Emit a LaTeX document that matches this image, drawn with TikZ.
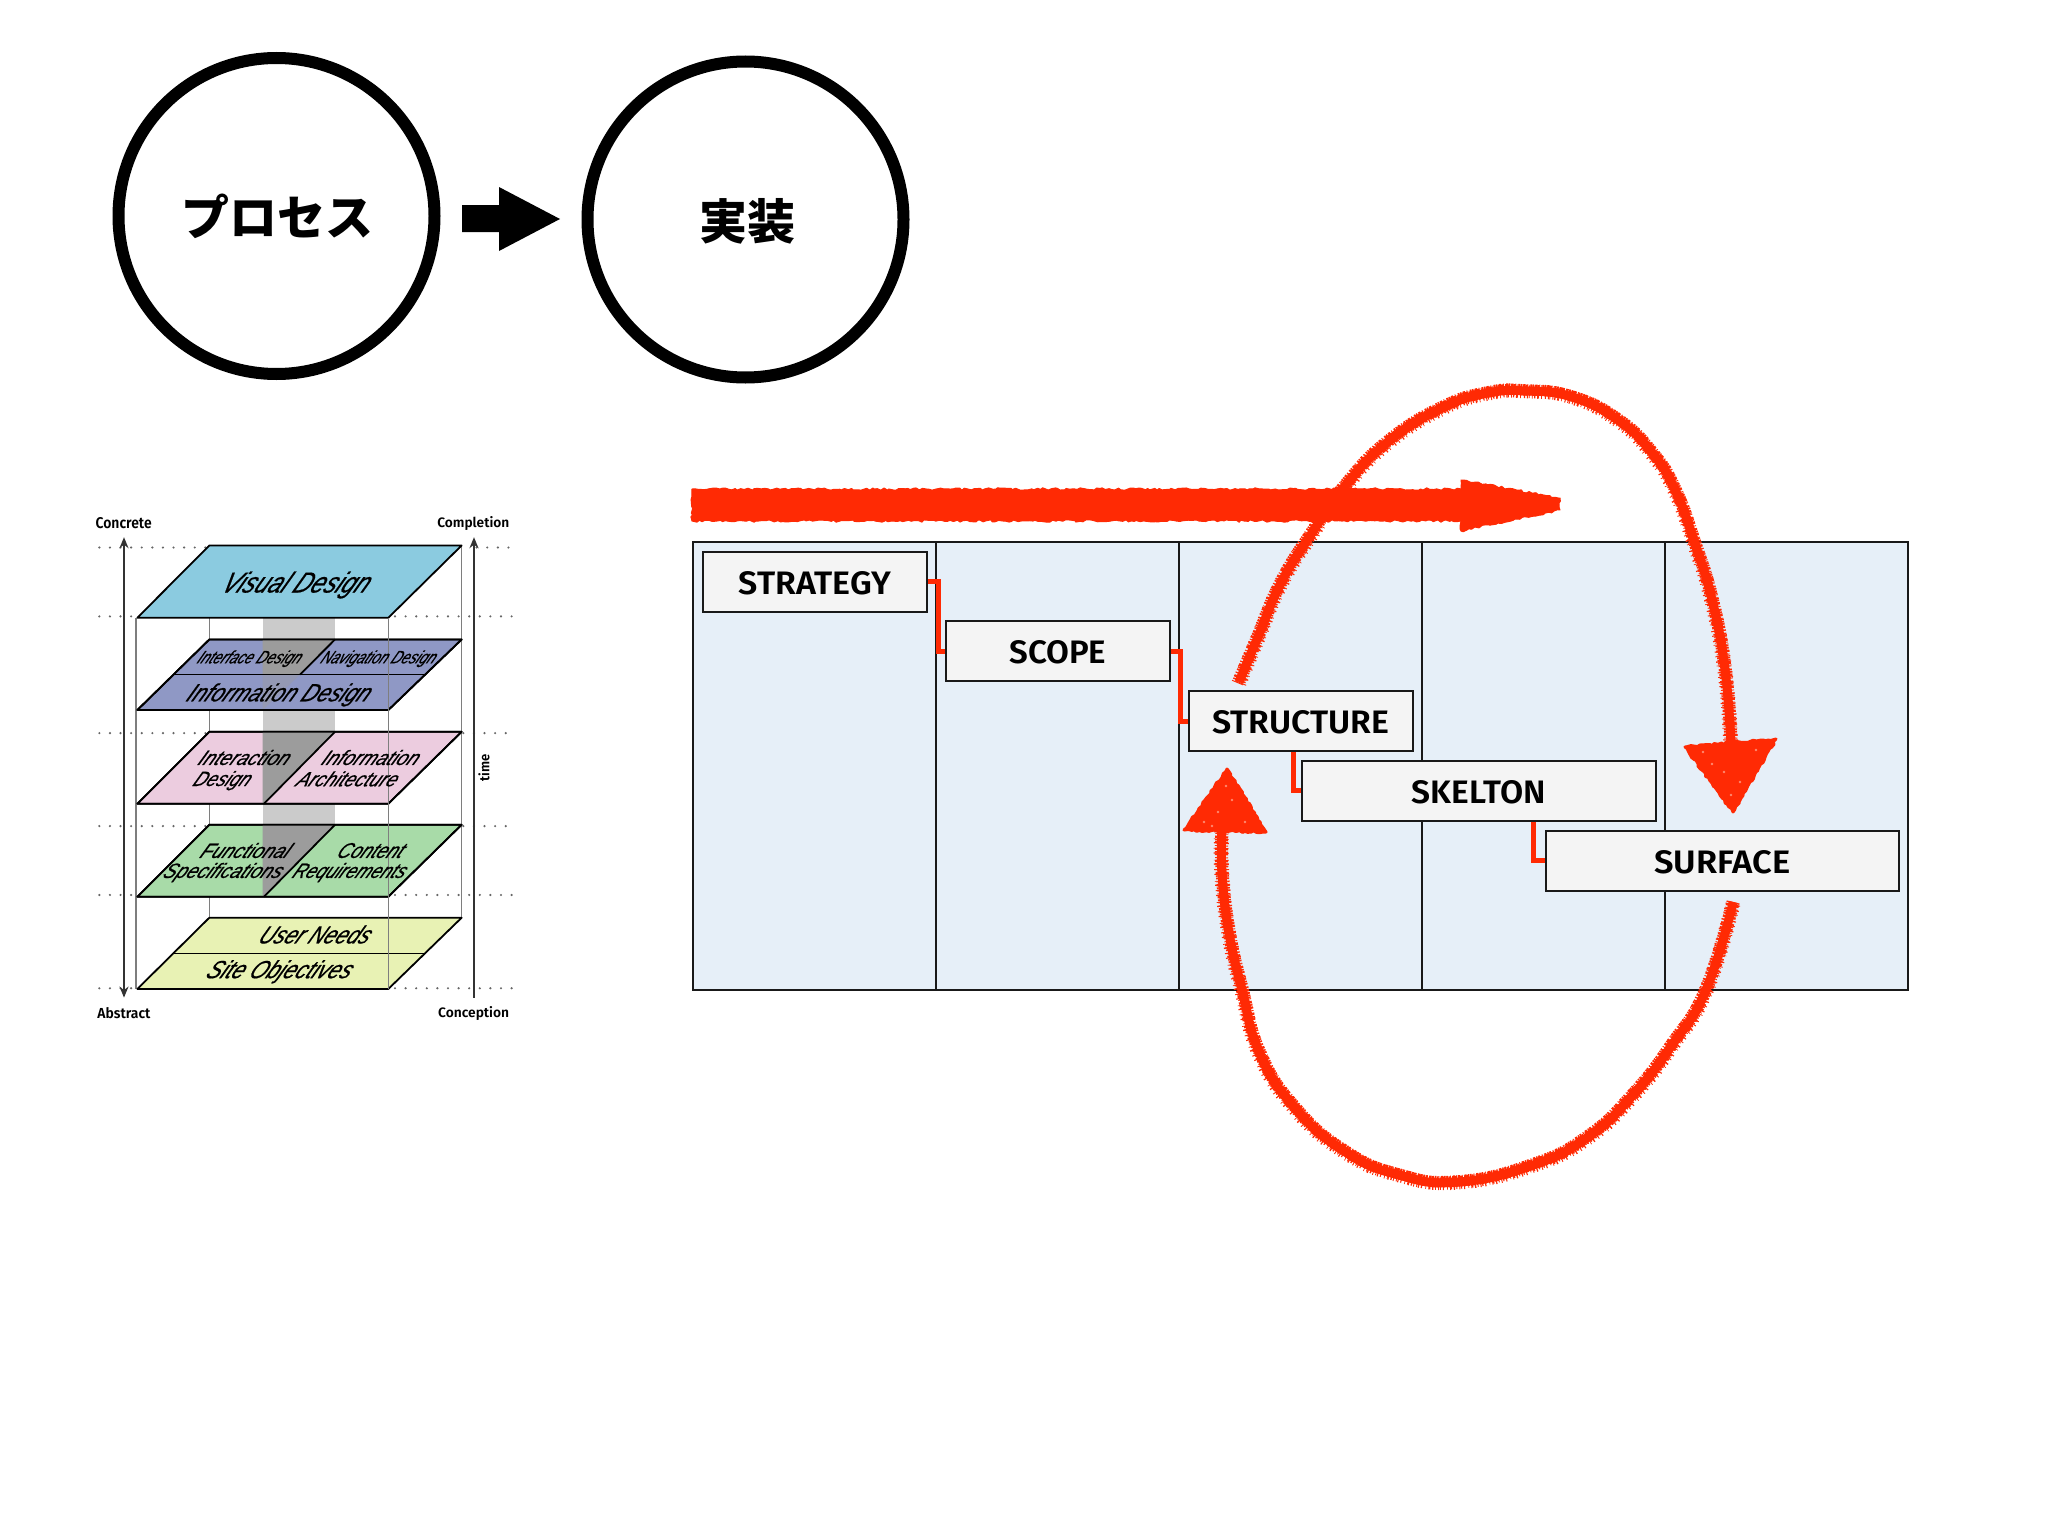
\documentclass[tikz,border=0pt]{standalone}
\usepackage{fontspec}
\usepackage{graphicx}
\usetikzlibrary{arrows.meta,decorations.pathmorphing,calc}
\setmainfont{Liberation Sans}
\newfontfamily\cjk{Noto Sans CJK JP}
\newfontfamily\din{Fira Sans SemiBold}
\newfontfamily\plf{Liberation Sans}[ItalicFeatures={FakeBold=.7}]
\definecolor{redmark}{HTML}{FF2A04}
\definecolor{speck}{HTML}{FF8A70}
\definecolor{colfill}{HTML}{E6EFF8}
\definecolor{boxfill}{HTML}{F4F4F4}
\definecolor{pvisual}{HTML}{8BCBE0}
\definecolor{pblue}{HTML}{8F98C5}
\definecolor{ppink}{HTML}{ECCCDF}
\definecolor{pgreen}{HTML}{A8DBA8}
\definecolor{pyellow}{HTML}{E8F2B4}
\definecolor{banddark}{HTML}{9C9C9C}
\definecolor{bandlight}{HTML}{CBCBCB}
\definecolor{bandblue}{HTML}{9499B4}
\definecolor{wire}{HTML}{7E7E7E}
\newcommand{\fit}[3]{\resizebox{#1pt}{#2pt}{#3}}
\newcommand{\stagefit}[2]{\raisebox{-1pt}[23pt][0pt]{\resizebox{#1pt}{23pt}{#2}}}
\newcommand{\uploop}[1]{\path[#1] plot[smooth,tension=.8] coordinates {(1239,682) (1258,637) (1281,583) (1312,533) (1346,485) (1388,442) (1442,408) (1488,393) (1526,391) (1572,397) (1618,420) (1652,453) (1675,490) (1694.5,543) (1712,600) (1725,670) (1731,745)};}
\newcommand{\lowloop}[1]{\path[#1] plot[smooth,tension=.8] coordinates {(1733,903) (1706,990) (1672,1045) (1633,1095) (1588,1137) (1533,1165) (1458.5,1182) (1399,1175) (1344,1151) (1294,1107) (1259.5,1053) (1242,990) (1229,933) (1222,873) (1222,828)};}
\tikzset{
  bigcircle/.style={circle,draw=black,line width=12pt,minimum size=316pt,inner sep=0pt,fill=white},
  cjklabel/.style={inner sep=0pt,font=\cjk\bfseries\fontsize{48}{48}\selectfont},
  column/.style={draw=black!90,line width=2pt,fill=colfill},
  stagebox/.style={draw=black!90,line width=2pt,fill=boxfill,inner sep=0pt,minimum height=60pt,font=\din},
  stageshort/.style={stagebox,minimum width=223.4pt},
  stagelong/.style={stagebox,minimum width=353.2pt},
  linkline/.style={draw=redmark,line width=5pt,line join=miter},
  rough/.style={decorate,decoration={random steps,segment length=3pt,amplitude=1pt}},
  redstrokea/.style={draw=redmark,line width=9pt,line cap=butt,line join=round},
  redstrokeb/.style={draw=redmark,line width=11pt,line cap=butt,line join=round,dash pattern=on 1.4pt off 1.1pt on 2.3pt off 1.7pt on .9pt off 2.1pt on 1.7pt off .8pt},
  redstrokec/.style={draw=redmark,line width=12pt,line cap=butt,line join=round,dash pattern=on .9pt off 4.3pt on 1.3pt off 2.9pt on .7pt off 6.1pt on 1.1pt off 3.7pt},
  redhead/.style={fill=redmark,draw=redmark,line width=3pt,line join=round,rough},
  redbar/.style={fill=redmark,draw=redmark,line width=1pt,line join=round,decorate,decoration={random steps,segment length=3pt,amplitude=1.2pt}},
  speckdot/.style={fill=speck},
  plane/.style={draw=black,line width=1.8pt,line join=round},
  wireline/.style={draw=wire,line width=1.5pt},
  dotline/.style={draw=black!60,line width=2.4pt,line cap=round,dash pattern=on 0pt off 10.6pt},
  axisline/.style={draw=black!80,line width=1.6pt},
  planelabel/.style={inner sep=0pt,xslant=.55,font=\plf\itshape},
  sidelabel/.style={inner sep=0pt,font=\din}
}
\begin{document}
\begin{tikzpicture}[x=1pt,y=-1pt]
\useasboundingbox (0,0) rectangle (2048,1536);
\pgfmathsetseed{11}
\fill[white] (0,0) rectangle (2048,1536);

% top circles
\node[bigcircle] (proc) at (276.5,216) {};
\node[bigcircle] (impl) at (745.5,219.5) {};
\node[cjklabel] (proclabel) at (277,216) {プロセス};
\node[cjklabel] (impllabel) at (747,221) {実装};
\fill[black] (462,205) -- (499,205) -- (499,187) -- (560,219) -- (499,251) -- (499,232) -- (462,232) -- cycle;

% columns
\foreach \i/\xa in {1/693.4,2/936.4,3/1179.4,4/1422.4,5/1665.4}{
  \path[column] (\xa,542) rectangle ++(243,448);
}
% stage boxes
\node[stageshort] (strategy) at (814.8,581.8) {\stagefit{152}{STRATEGY}};
\node[stageshort] (scope) at (1057.8,651.4) {\stagefit{97}{SCOPE}};
\node[stageshort] (structure) at (1300.8,721.4) {\stagefit{177}{STRUCTURE}};
\node[stagelong] (skelton) at (1478.9,790.7) {\stagefit{134}{SKELTON}};
\node[stagelong] (surface) at (1722.2,860.7) {\stagefit{136}{SURFACE}};

% connectors
\draw[linkline] (strategy.east) -- ++(11,0) |- (scope.west);
\draw[linkline] (scope.east) -- ++(9.5,0) |- (structure.west);
\draw[linkline] ([xshift=-7]structure.south) |- (skelton.west);
\draw[linkline] ([xshift=55]skelton.south) |- (surface.west);

% big horizontal red arrow
\path[redbar] (692,489) -- (1461,489) -- (1461,480) -- (1560,498) -- (1560,510) -- (1461,531) -- (1461,521) -- (692,521) -- cycle;

% loops
\foreach \sty/\ox/\oy in {redstrokea/0/0,redstrokeb/1.2/.8,redstrokec/-1.6/-1,redstrokeb/-.9/1.3,redstrokec/1.4/-1.4}{
  \uploop{\sty,xshift=\ox,yshift=\oy}
  \lowloop{\sty,xshift=\ox,yshift=\oy}
}
\path[redhead] (1685,747) -- (1776,739) -- (1733,812) -- cycle;
\path[redhead] (1227,769) -- (1266,832) -- (1184,830) -- cycle;
\foreach \dx/\dy in {1703/752,1724/772,1740/782,1756/750,1712/764,1731/795,1218/812,1232/800,1204/822,1245/822,1226/786,1212/826}{
  \fill[speckdot] (\dx,\dy) circle[radius=1.3pt];
}

% layered diagram
\begin{scope}[shift={(80,500)},x=.33333pt,y=-.34435pt]
  % dotted guides
  \foreach \yy/\la/\ra in {138/380/1190,338/170/945,677/380/1150,947/380/1150,1147/170/945,1418/170/945}{
    \path[dotline] (58,\yy) -- (\la,\yy);
    \path[dotline] (\ra,\yy) -- (1295,\yy);
  }
  % back wires
  \path[wireline] (388,132) -- (388,1215);
  \path[wireline] (1145,132) -- (1145,1215);
  \path[wireline] (168,342) -- (168,1420);
  % grey band
  \fill[bandlight] (548,342) rectangle (766,1152);
  % planes
  \path[plane,fill=pyellow] (388,1213) -- (1145,1213) -- (925,1420) -- (172,1420) -- cycle;
  \path[plane] (280,1317) -- (1035,1317);
  \path[plane,fill=pgreen] (388,943) -- (1145,943) -- (925,1152) -- (172,1152) -- cycle;
  \path[plane,fill=ppink] (388,673) -- (1145,673) -- (925,882) -- (172,882) -- cycle;
  \path[plane,fill=pblue] (388,405) -- (1145,405) -- (925,610) -- (172,610) -- cycle;
  % band seen through planes
  \fill[bandblue] (548,507) -- (660,507) -- (548,610) -- cycle;
  \fill[banddark] (548,405) -- (765,405) -- (660,507) -- (548,507) -- cycle;
  \fill[banddark] (548,673) -- (765,673) -- (552,882) -- (548,882) -- cycle;
  \fill[banddark] (548,943) -- (765,943) -- (552,1152) -- (548,1152) -- cycle;
  % re-stroke plane lines
  \path[plane] (388,405) -- (1145,405) -- (925,610) -- (172,610) -- cycle;
  \path[plane] (280,507) -- (1035,507);
  \path[plane] (765,405) -- (660,507);
  \path[plane] (388,673) -- (1145,673) -- (925,882) -- (172,882) -- cycle;
  \path[plane] (765,673) -- (552,882);
  \path[plane] (388,943) -- (1145,943) -- (925,1152) -- (172,1152) -- cycle;
  \path[plane] (765,943) -- (552,1152);
  \path[plane,fill=pvisual] (388,132) -- (1145,132) -- (925,342) -- (172,342) -- cycle;
  % front wire over planes
  \path[wireline] (925,342) -- (925,1420);
  % plane labels
  \node[planelabel] (lvisual) at (650,247) {\fit{146}{21}{Visual Design}};
  \node[planelabel] (linterface) at (510,461) {\fit{103}{13}{Interface Design}};
  \node[planelabel] (lnavigation) at (897,461) {\fit{114}{13}{Navigation Design}};
  \node[planelabel] (linformation) at (598,566) {\fit{182}{18}{Information Design}};
  \node[planelabel] (linteraction) at (497,748) {\fit{90}{15}{Interaction}};
  \node[planelabel] (ldesign) at (428,815) {\fit{56}{15}{Design}};
  \node[planelabel] (linfo) at (876,748) {\fit{96}{15}{Information}};
  \node[planelabel] (larch) at (806,810) {\fit{100}{15}{Architecture}};
  \node[planelabel] (lfunc) at (500,1018) {\fit{88}{15}{Functional}};
  \node[planelabel] (lspec) at (430,1082) {\fit{118}{15}{Specifications}};
  \node[planelabel] (lcontent) at (876,1018) {\fit{65}{15}{Content}};
  \node[planelabel] (lreq) at (810,1082) {\fit{112}{15}{Requirements}};
  \node[planelabel] (luser) at (710,1262) {\fit{110}{18}{User Needs}};
  \node[planelabel] (lsite) at (600,1370) {\fit{144}{18}{Site Objectives}};
  % side labels
  \node[sidelabel] (concrete) at (131,66) {\fit{56}{11}{Concrete}};
  \node[sidelabel] (completion) at (1180,68) {\fit{72}{11}{Completion}};
  \node[sidelabel] (abstract) at (132,1490) {\fit{53}{11}{Abstract}};
  \node[sidelabel] (conception) at (1181,1492) {\fit{71}{11}{Conception}};
  \node[sidelabel,rotate=90] (timelabel) at (1212,778) {\fit{27}{11}{time}};
  % axes
  \coordinate (ltop) at (132,108);
  \coordinate (lbot) at (132,1445);
  \coordinate (rtop) at (1182,108);
  \coordinate (rbot) at (1182,1445);
  \path[axisline,{Stealth[length=11pt,width=9pt]}-{Stealth[length=11pt,width=9pt]}] (ltop) -- (lbot);
  \path[axisline,-{Stealth[length=11pt,width=9pt]}] (rbot) -- (rtop);
\end{scope}
\end{tikzpicture}
\end{document}
